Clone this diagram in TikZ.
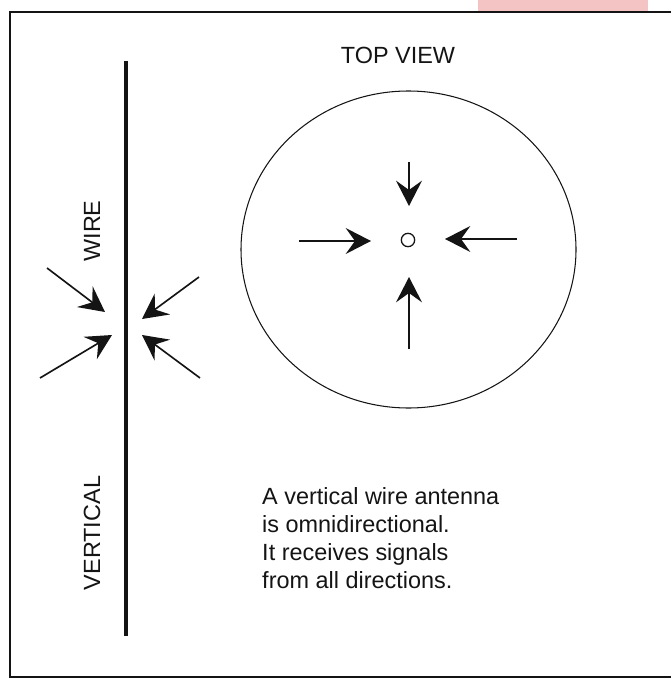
\documentclass[tikz,border=0pt]{standalone}
\usepackage{fontspec}
\setmainfont{Liberation Sans}
\usepackage{tikz}
\usetikzlibrary{arrows.meta,positioning,shapes.geometric}
\usepackage{xcolor}
\definecolor{ink}{RGB}{20,20,20}
\definecolor{scanpink}{RGB}{244,196,196}
\tikzset{
  % ---- frame and antenna -------------------------------------------------
  frame/.style={draw=ink, line width=1.4pt},
  wire/.style={draw=ink, line width=3.8pt},
  % ---- top view ----------------------------------------------------------
  pattern/.style={draw=ink, line width=0.9pt},
  feed/.style={circle, draw=ink, line width=1.1pt, minimum size=4mm, inner sep=0pt},
  % ---- arrows ------------------------------------------------------------
  sig/.style={-{Stealth[length=7.6mm,width=7.8mm,inset=2.8mm]}, draw=ink, line width=1.4pt},
  % ---- labels ------------------------------------------------------------
  lbl/.style={font=\fontsize{20}{23.8}\selectfont, text=ink, inner sep=0pt},
  note/.style={lbl, align=left},
}

\begin{document}
\begin{tikzpicture}[x=0.03cm,y=-0.03cm]

\useasboundingbox (0,0) rectangle (671,679);
\fill[scanpink] (478,0) rectangle (648,11);

% ---- frame -----------------------------------------------------------------
\draw[frame] (671,12) -- (10,12) -- (10,677) -- (671,677);

% ---- vertical wire ---------------------------------------------------------
\coordinate (wtop) at (126,61);
\coordinate (wbot) at (126,636);
\draw[wire] (wtop) -- (wbot);

\node[lbl, rotate=90] (wirelbl) at (92,231) {WIRE};
\node[lbl, rotate=90] (vertlbl) at (92,533) {VERTICAL};

\newcommand{\sigin}[3]{\coordinate (#1t) at (#2); \coordinate (#1h) at (#3); \draw[sig] (#1t) -- (#1h);}

\sigin{ul}{47,268}{105,312}
\sigin{ll}{40,378}{112,335}
\sigin{ur}{199,277}{142,319}
\sigin{lr}{200,378}{142,335}

% ---- top view --------------------------------------------------------------
\node[lbl, anchor=base] (toplbl) at (398,64) {TOP VIEW};
\draw[pattern] (408.5,249.5) ellipse [x radius=167.5, y radius=158.5];
\node[feed] (feed) at (408,240) {};

\sigin{n}{409,162}{409,206}
\sigin{s}{409,349}{409,277}
\sigin{w}{299,241}{371,241}
\sigin{e}{517,239}{445,239}

% ---- caption ---------------------------------------------------------------
\node[note, anchor=base west] (caption) at (262,588)
  {A vertical wire antenna\\ is omnidirectional.\\ It receives signals\\ from all directions.};

\end{tikzpicture}
\end{document}
